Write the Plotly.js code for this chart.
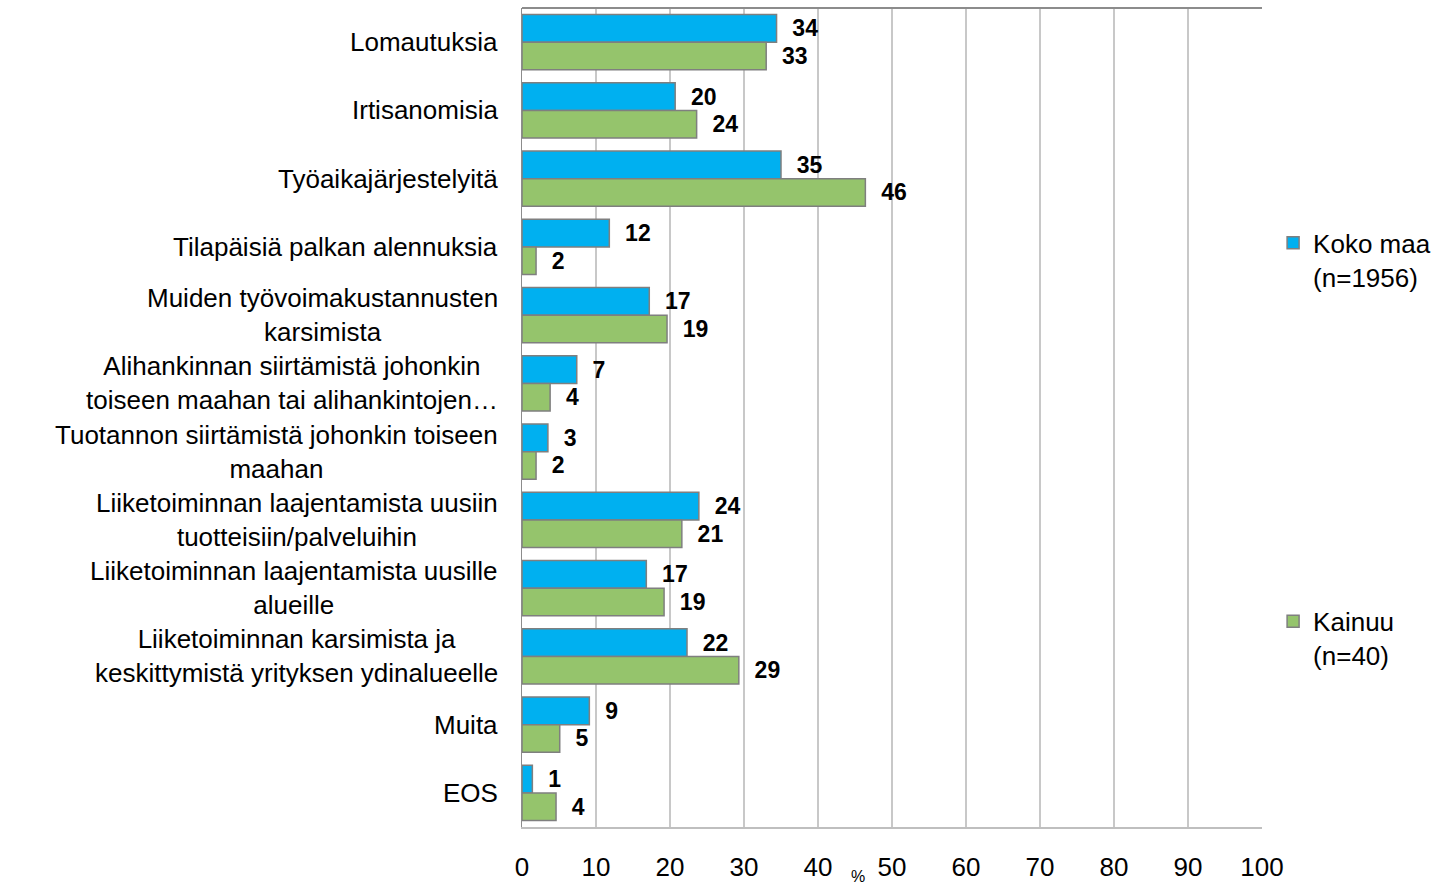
<!DOCTYPE html>
<html>
<head>
<meta charset="utf-8">
<script src="https://cdn.plot.ly/plotly-3.0.1.min.js"></script>
<style>html,body{margin:0;padding:0;background:#fff;}#chart{width:1445px;height:888px;}</style>
</head>
<body>
<div id="chart"></div>
<script>
const categories = [
  "Lomautuksia",
  "Irtisanomisia",
  "Työaikajärjestelyitä",
  "Tilapäisiä palkan alennuksia",
  "Muiden työvoimakustannusten<br>karsimista",
  "Alihankinnan siirtämistä johonkin<br>toiseen maahan tai alihankintojen…",
  "Tuotannon siirtämistä johonkin toiseen<br>maahan",
  "Liiketoiminnan laajentamista uusiin<br>tuotteisiin/palveluihin",
  "Liiketoiminnan laajentamista uusille<br>alueille",
  "Liiketoiminnan karsimista ja<br>keskittymistä yrityksen ydinalueelle",
  "Muita",
  "EOS"
];
const kokoMaa = [34.4, 20.7, 35.0, 11.8, 17.2, 7.4, 3.5, 23.9, 16.8, 22.3, 9.1, 1.4];
const kokoMaaLabels = [34, 20, 35, 12, 17, 7, 3, 24, 17, 22, 9, 1];
const kainuu = [33.0, 23.6, 46.4, 1.9, 19.6, 3.8, 1.9, 21.6, 19.2, 29.3, 5.1, 4.6];
const kainuuLabels = [33, 24, 46, 2, 19, 4, 2, 21, 19, 29, 5, 4];
const seriesNames = ["Koko maa<br>(n=1956)", "Kainuu<br>(n=40)"];
const xTicks = [0, 10, 20, 30, 40, 50, 60, 70, 80, 90, 100];

const FONT = "Arial, 'Liberation Sans', sans-serif";
const nb = "\u00a0\u00a0";

const traces = [
  {
    type: "bar", orientation: "h", name: seriesNames[0], legendgroup: "a",
    y: categories, x: kokoMaa,
    text: kokoMaaLabels.map(v => nb + v), textposition: "outside", cliponaxis: false,
    constraintext: "none",
    textfont: {family: FONT, size: 23, color: "#000", weight: "bold"},
    marker: {color: "#00b0f0", line: {color: "#7f7f7f", width: 1.5}},
    hoverinfo: "x+y"
  },
  {
    type: "bar", orientation: "h", name: seriesNames[1], legendgroup: "b",
    y: categories, x: kainuu,
    text: kainuuLabels.map(v => nb + v), textposition: "outside", cliponaxis: false,
    constraintext: "none",
    textfont: {family: FONT, size: 23, color: "#000", weight: "bold"},
    marker: {color: "#95c46c", line: {color: "#7f7f7f", width: 1.5}},
    hoverinfo: "x+y"
  }
];

const annotations = categories.map(c => ({
  x: 0, xref: "paper", y: c, yref: "y", text: c, showarrow: false,
  xanchor: "right", xshift: -22, align: "center",
  font: {family: FONT, size: 26, color: "#000"}
}));
annotations.push({
  x: 0.454, xref: "paper", y: -0.061, yref: "paper", text: "%", showarrow: false,
  xanchor: "center", yanchor: "middle", font: {family: FONT, size: 16, color: "#000"}
});

const layout = {
  width: 1445, height: 888,
  margin: {l: 522, r: 183, t: 8, b: 61, pad: 0},
  paper_bgcolor: "#fff", plot_bgcolor: "#fff",
  barmode: "group", bargap: 0.19, bargroupgap: 0,
  font: {family: FONT, color: "#000"},
  xaxis: {
    range: [0, 100], tickvals: xTicks, ticktext: xTicks.map(String),
    showgrid: true, gridcolor: "#c8c8c8", gridwidth: 1.3,
    zeroline: false, showline: true, linecolor: "#bfbfbf", linewidth: 1.5,
    ticks: "outside", ticklen: 16, tickcolor: "rgba(0,0,0,0)",
    tickfont: {family: FONT, size: 26, color: "#000"},
    fixedrange: true
  },
  yaxis: {
    autorange: "reversed", type: "category",
    showticklabels: false, showgrid: false, zeroline: false,
    showline: true, linecolor: "#8c8c8c", linewidth: 1.5,
    fixedrange: true
  },
  legend: {
    x: 1.015, xanchor: "left", y: 0.742, yanchor: "top",
    traceorder: "grouped", tracegroupgap: 308, valign: "top",
    font: {family: FONT, size: 26, color: "#000"},
    bgcolor: "rgba(0,0,0,0)"
  },
  shapes: [
    {type: "line", xref: "paper", yref: "paper", x0: 0, x1: 1, y0: 1, y1: 1,
     line: {color: "#8c8c8c", width: 2}}
  ],
  annotations: annotations,
  showlegend: true
};

Plotly.newPlot("chart", traces, layout, {displayModeBar: false, staticPlot: true});
</script>
</body>
</html>
